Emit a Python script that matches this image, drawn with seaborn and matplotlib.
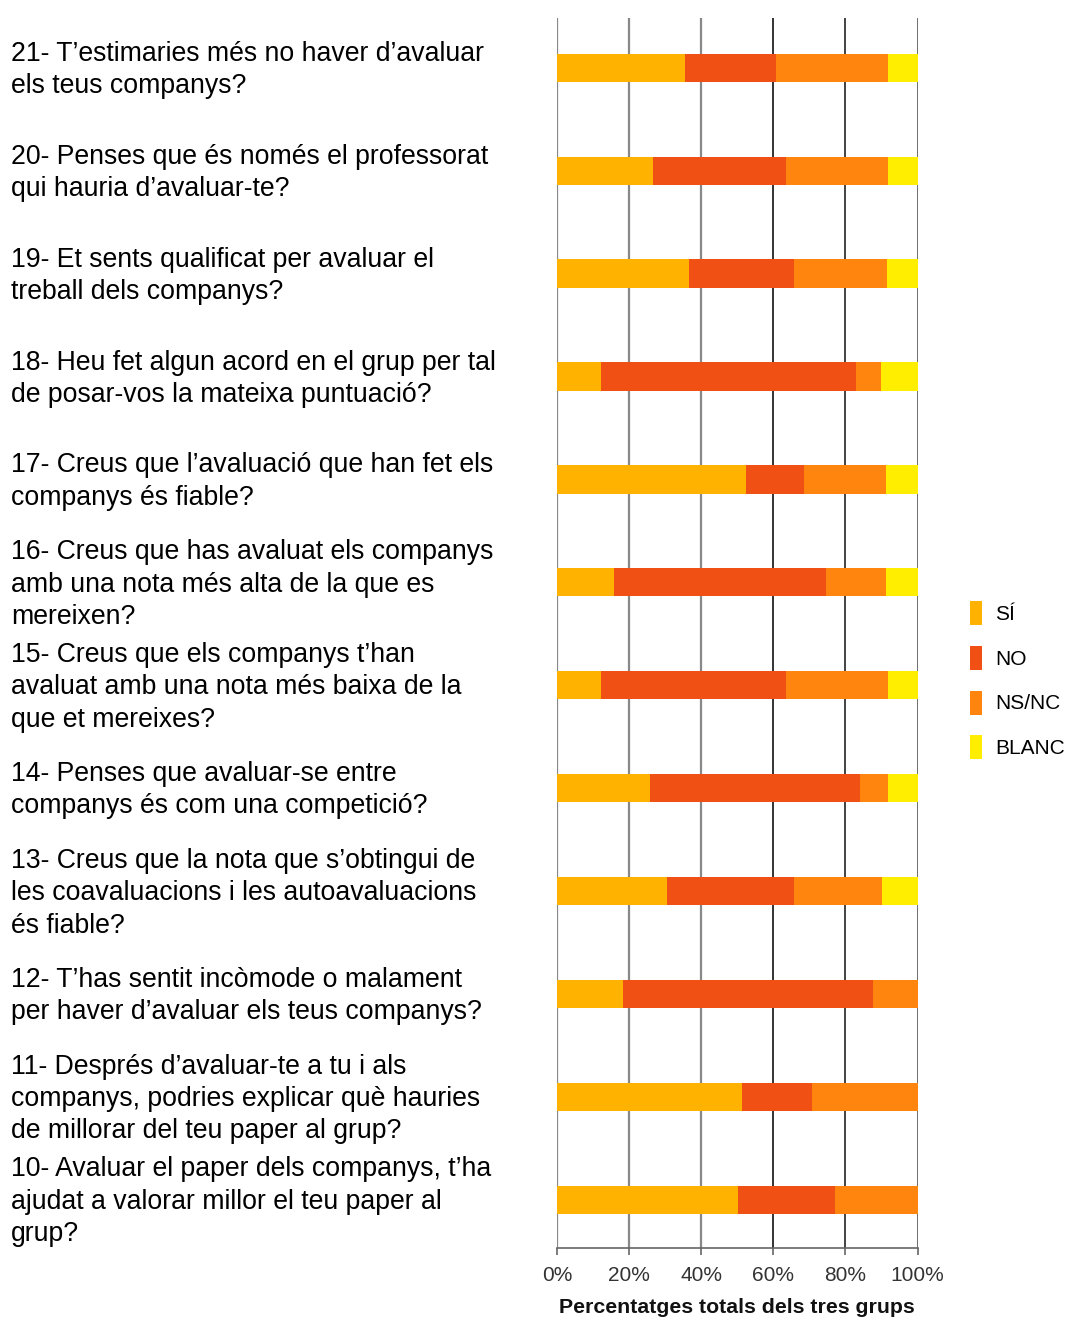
import numpy as np
import pandas as pd
import matplotlib
matplotlib.use("Agg")
import matplotlib.pyplot as plt
import matplotlib.transforms as mtransforms
from matplotlib.patches import Patch
import seaborn as sns

preguntes = [
    "21- T’estimaries més no haver d’avaluar\nels teus companys?",
    "20- Penses que és només el professorat\nqui hauria d’avaluar-te?",
    "19- Et sents qualificat per avaluar el\ntreball dels companys?",
    "18- Heu fet algun acord en el grup per tal\nde posar-vos la mateixa puntuació?",
    "17- Creus que l’avaluació que han fet els\ncompanys és fiable?",
    "16- Creus que has avaluat els companys\namb una nota més alta de la que es\nmereixen?",
    "15- Creus que els companys t’han\navaluat amb una nota més baixa de la\nque et mereixes?",
    "14- Penses que avaluar-se entre\ncompanys és com una competició?",
    "13- Creus que la nota que s’obtingui de\nles coavaluacions i les autoavaluacions\nés fiable?",
    "12- T’has sentit incòmode o malament\nper haver d’avaluar els teus companys?",
    "11- Després d’avaluar-te a tu i als\ncompanys, podries explicar què hauries\nde millorar del teu paper al grup?",
    "10- Avaluar el paper dels companys, t’ha\najudat a valorar millor el teu paper al\ngrup?",
]

si = [35.5, 26.7, 36.6, 12.3, 52.4, 15.7, 12.3, 25.8, 30.4, 18.2, 51.3, 50.1]
no = [25.3, 36.7, 29.2, 70.7, 16.0, 58.8, 51.3, 58.3, 35.4, 69.4, 19.3, 26.9]
nsnc = [30.9, 28.3, 25.6, 6.9, 22.8, 16.7, 28.1, 7.6, 24.3, 12.4, 29.4, 23.0]
blanc = [8.3, 8.3, 8.6, 10.1, 8.8, 8.8, 8.3, 8.3, 9.9, 0.0, 0.0, 0.0]

series = ["SÍ", "NO", "NS/NC", "BLANC"]
colors = ["#FFB300", "#F05014", "#FF850F", "#FFEE00"]

df = pd.DataFrame({"pregunta": preguntes, "SÍ": si, "NO": no,
                   "NS/NC": nsnc, "BLANC": blanc})
cum = df[series].cumsum(axis=1)
cum["pregunta"] = df["pregunta"]

plt.rcParams["font.family"] = ["Liberation Sans", "DejaVu Sans"]
fig = plt.figure(figsize=(10.67, 13.18), dpi=100)
ax = fig.add_axes([0.522, 0.0531, 0.338, 0.9329])

# stacked: draw the cumulative totals from widest to narrowest
for s, c in reversed(list(zip(series, colors))):
    sns.barplot(data=cum, x=s, y="pregunta", orient="h", color=c,
                saturation=1, width=0.275, ax=ax, zorder=3)

ax.set_xlim(0, 100)
ax.set_ylim(11.47, -0.48)
ax.set_xticks([0, 20, 40, 60, 80, 100])
ax.set_xticklabels(["0%", "20%", "40%", "60%", "80%", "100%"],
                   fontsize=15, color="#333333")
ax.set_xlabel("Percentatges totals dels tres grups", fontsize=15.3,
              fontweight="bold", labelpad=9, color="#111111")
ax.set_ylabel("")

grid_colors = ["#888888", "#888888", "#888888", "#111111", "#222222", "#555555"]
for x, gc in zip([0, 20, 40, 60, 80, 100], grid_colors):
    ax.axvline(x, color=gc, lw=1.6 if gc == "#888888" else 1.2, zorder=1)

for sp in ["top", "right", "left"]:
    ax.spines[sp].set_visible(False)
ax.spines["bottom"].set_color("#666666")
ax.spines["bottom"].set_linewidth(1.2)
ax.tick_params(axis="x", length=5, color="#666666", width=1.2, pad=8)
ax.tick_params(axis="y", length=0, pad=393, labelsize=19.2)
shift = mtransforms.ScaledTranslation(0, 0.04, fig.dpi_scale_trans)
for lab in ax.get_yticklabels():
    lab.set_horizontalalignment("left")
    lab.set_multialignment("left")
    lab.set_linespacing(1.32)
    lab.set_transform(lab.get_transform() + shift)

handles = [Patch(facecolor=c, edgecolor="none") for c in colors]
fig.legend(handles, series, loc="center left", bbox_to_anchor=(0.909, 0.484),
           frameon=False, fontsize=15, handlelength=0.6, handleheight=1.4,
           labelspacing=1.0, handletextpad=0.6, borderpad=0, borderaxespad=0)

fig.savefig("out.png", dpi=100)
